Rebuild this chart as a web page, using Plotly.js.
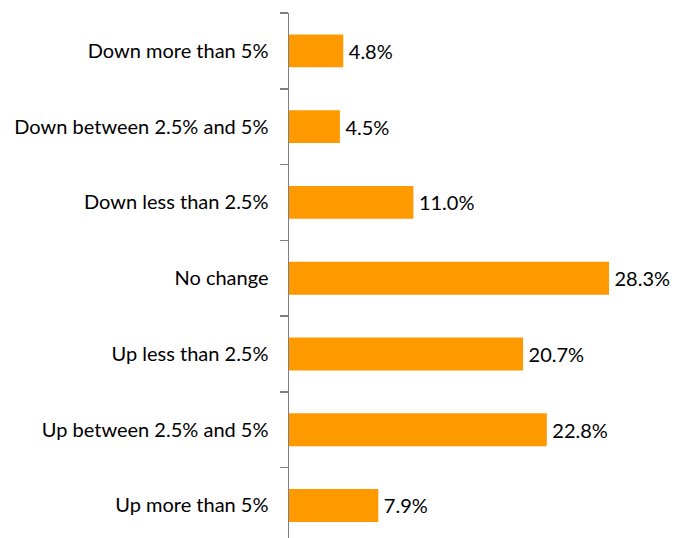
<!DOCTYPE html>
<html>
<head>
<meta charset="utf-8">
<script src="https://cdn.plot.ly/plotly-3.0.1.min.js"></script>
<style>html,body{margin:0;padding:0;overflow:hidden;background:#fff;}</style>
</head>
<body>
<div id="chart" style="width:678px;height:538px;"></div>
<script>
const categories = ["Down more than 5%", "Down between 2.5% and 5%", "Down less than 2.5%", "No change", "Up less than 2.5%", "Up between 2.5% and 5%", "Up more than 5%"];
const values = [4.8, 4.5, 11.0, 28.3, 20.7, 22.8, 7.9];
const labels = values.map(v => "\u2009" + v.toFixed(1) + "%");

const trace = {
  type: "bar",
  orientation: "h",
  y: categories,
  x: values,
  text: labels,
  textposition: "outside",
  cliponaxis: false,
  textfont: {family: "Lato, sans-serif", size: 20, color: "#000"},
  marker: {color: "#FF9900"},
  hoverinfo: "none"
};

const layout = {
  width: 678,
  height: 538,
  margin: {l: 289, r: 0, t: 13, b: 0, pad: 0},
  paper_bgcolor: "#fff",
  plot_bgcolor: "#fff",
  showlegend: false,
  bargap: 0.565,
  font: {family: "Lato, sans-serif", size: 20, color: "#000"},
  xaxis: {range: [0, 34.4], visible: false, fixedrange: true},
  yaxis: {
    type: "category",
    categoryorder: "array",
    categoryarray: categories,
    range: [6.43, -0.5],
    showline: true,
    linecolor: "#808080",
    linewidth: 1.5,
    ticks: "outside",
    tickson: "boundaries",
    ticklen: 8,
    tickwidth: 1.5,
    tickcolor: "#808080",
    ticklabelstandoff: 15,
    showgrid: false,
    zeroline: false,
    tickfont: {family: "Lato, sans-serif", size: 20, color: "#000"},
    fixedrange: true
  }
};

Plotly.newPlot("chart", [trace], layout, {displayModeBar: false, staticPlot: true});
</script>
</body>
</html>
